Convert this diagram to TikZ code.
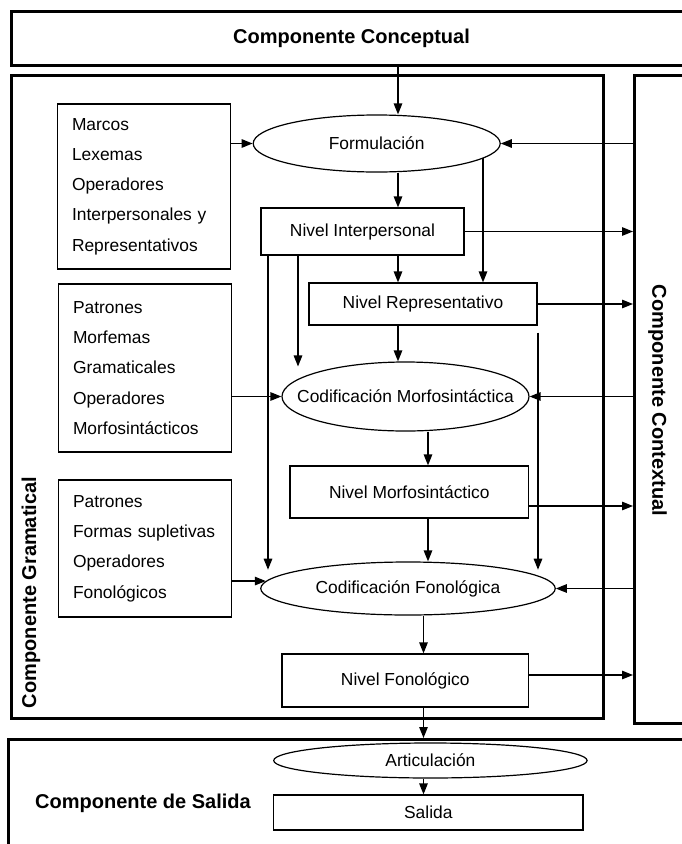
\documentclass[tikz,border=0pt]{standalone}
\usepackage{fontspec}
\setmainfont{Liberation Sans}
\usetikzlibrary{arrows.meta, shapes.geometric, calc}

\begin{document}
\begin{tikzpicture}[x = 1pt, y = -1pt,
		comp/.style = {draw, line width = 3pt, inner sep = 0pt},
		title/.style = {font = \fontsize{20}{24}\selectfont\bfseries},
		level/.style = {draw, rectangle, line width = 1.2pt, inner sep = 0pt, font = \fontsize{17.4}{20}\selectfont},
		proc/.style = {draw, ellipse, line width = 1.2pt, inner xsep = -30pt, inner ysep = 0pt, font = \fontsize{17.4}{20}\selectfont},
		lex/.style = {draw, rectangle, line width = 1.2pt, align = left, text width = 144pt, inner xsep = 14.5pt, inner ysep = 0pt, font = \fontsize{17.4}{30.3}\selectfont},
		arr/.style = {line width = 1.3pt, -{Triangle[length = 11pt, width = 8.5pt]}}]
	
		\useasboundingbox (0, 0) rectangle (681, 844);
		
		% components
		\node[comp, title, minimum width = 680pt, minimum height = 53.5pt, anchor = north west] (conc) at (10, 10) {Componente Conceptual};
		\node[comp, minimum width = 591.5pt, minimum height = 643pt, anchor = north west] (gram) at (10, 74) {};
		\node[comp, minimum width = 67pt, minimum height = 648pt, anchor = north west] (ctx) at (633, 74) {};
		\node[comp, minimum width = 694pt, minimum height = 130pt, anchor = north west] (sal) at (6.5, 738) {};
		
		\node[title, rotate = 90] (gramlabel) at (31, 592.5) {Componente Gramatical};
		\node[title, rotate = -90] (ctxlabel) at (657.5, 400.5) {Componente Contextual};
		\node[title] (sallabel) at (143, 803) {Componente de Salida};
		
		% lexicon boxes
		\node[lex, minimum height = 165pt] (lexa) at (144, 186.5) {Marcos\\Lexemas\\Operadores\\Interpersonales y\\Representativos};
		\node[lex, minimum height = 168pt] (lexb) at (145, 368) {Patrones\\Morfemas\\Gramaticales\\Operadores\\Morfosintácticos};
		\node[lex, minimum height = 137pt] (lexc) at (145, 548.5) {Patrones\\Formas supletivas\\Operadores\\Fonológicos};
		
		% levels and operations
		\node[proc, minimum width = 247pt, minimum height = 57pt] (form) at (376.7, 143.5) {Formulación};
		\node[level, minimum width = 203pt, minimum height = 47pt] (inter) at (362.5, 231.5) {Nivel Interpersonal};
		\node[level, minimum width = 228pt, minimum height = 42pt] (repr) at (423, 304) {Nivel Representativo};
		\node[proc, minimum width = 247pt, minimum height = 69pt] (codm) at (405.5, 396.5) {Codificación Morfosintáctica};
		\node[level, minimum width = 238.6pt, minimum height = 52pt] (morf) at (409.3, 492) {Nivel Morfosintáctico};
		\node[proc, minimum width = 294.5pt, minimum height = 53pt] (codf) at (408, 588.5) {Codificación Fonológica};
		\node[level, minimum width = 246.6pt, minimum height = 53pt] (fono) at (405.3, 680.5) {Nivel Fonológico};
		\node[proc, minimum width = 313.4pt, minimum height = 35pt] (artic) at (430.4, 760.5) {Articulación};
		\node[level, minimum width = 309.4pt, minimum height = 35pt] (salida) at (428.3, 812.5) {Salida};
		
		% columns of the vertical connectors
		\coordinate (colA) at (398, 0);
		\coordinate (colB) at (483, 0);
		\coordinate (colC) at (268, 0);
		\coordinate (colD) at (298, 0);
		\coordinate (colE) at (538, 0);
		\coordinate (colF) at (428, 0);
		\coordinate (colG) at (423.5, 0);
		\coordinate (morfout) at ($(morf.east) + (0, 14)$);
		\coordinate (fonoout) at ($(fono.east) + (0, -5.5)$);
		
		\draw[arr] (conc.south -| colA) -- (form.north -| colA);
		\draw[arr] (form.south -| colA) -- (inter.north -| colA);
		\draw[arr] (inter.south -| colA) -- (repr.north -| colA);
		\draw[arr] (repr.south -| colA) -- (codm.north -| colA);
		\draw[arr] (form.-8 -| colB) -- (repr.north -| colB);
		\draw[arr] (inter.south -| colC) -- (colC |- codf.170);
		\draw[arr] (inter.south -| colD) -- (colD |- codm.155);
		\draw[arr] ($(repr.south -| colE) + (0, 7)$) -- (colE |- codf.10);
		\draw[arr] (codm.south -| colF) -- (morf.north -| colF);
		\draw[arr] (morf.south -| colF) -- (codf.north -| colF);
		\draw[arr] (codf.south -| colG) -- (fono.north -| colG);
		\draw[arr] (fono.south -| colG) -- (sal.north -| colG);
		\draw[arr] (artic.south -| colG) -- (salida.north -| colG);
		
		\draw[arr] (lexa.east |- form.west) -- (form.west);
		\draw[arr] (lexb.east |- codm.west) -- (codm.west);
		\draw[arr] (lexc.east |- codf.177) -- (codf.177);
		
		\draw[arr] (ctx.west |- form.east) -- (form.east);
		\draw[arr] (ctx.west |- codm.east) -- (codm.east);
		\draw[arr] (ctx.west |- codf.east) -- (codf.east);
		\draw[arr] (inter.east) -- (ctx.west |- inter.east);
		\draw[arr] (repr.east) -- (ctx.west |- repr.east);
		\draw[arr] (morfout) -- (ctx.west |- morfout);
		\draw[arr] (fonoout) -- (ctx.west |- fonoout);
		
	\end{tikzpicture}
\end{document}
